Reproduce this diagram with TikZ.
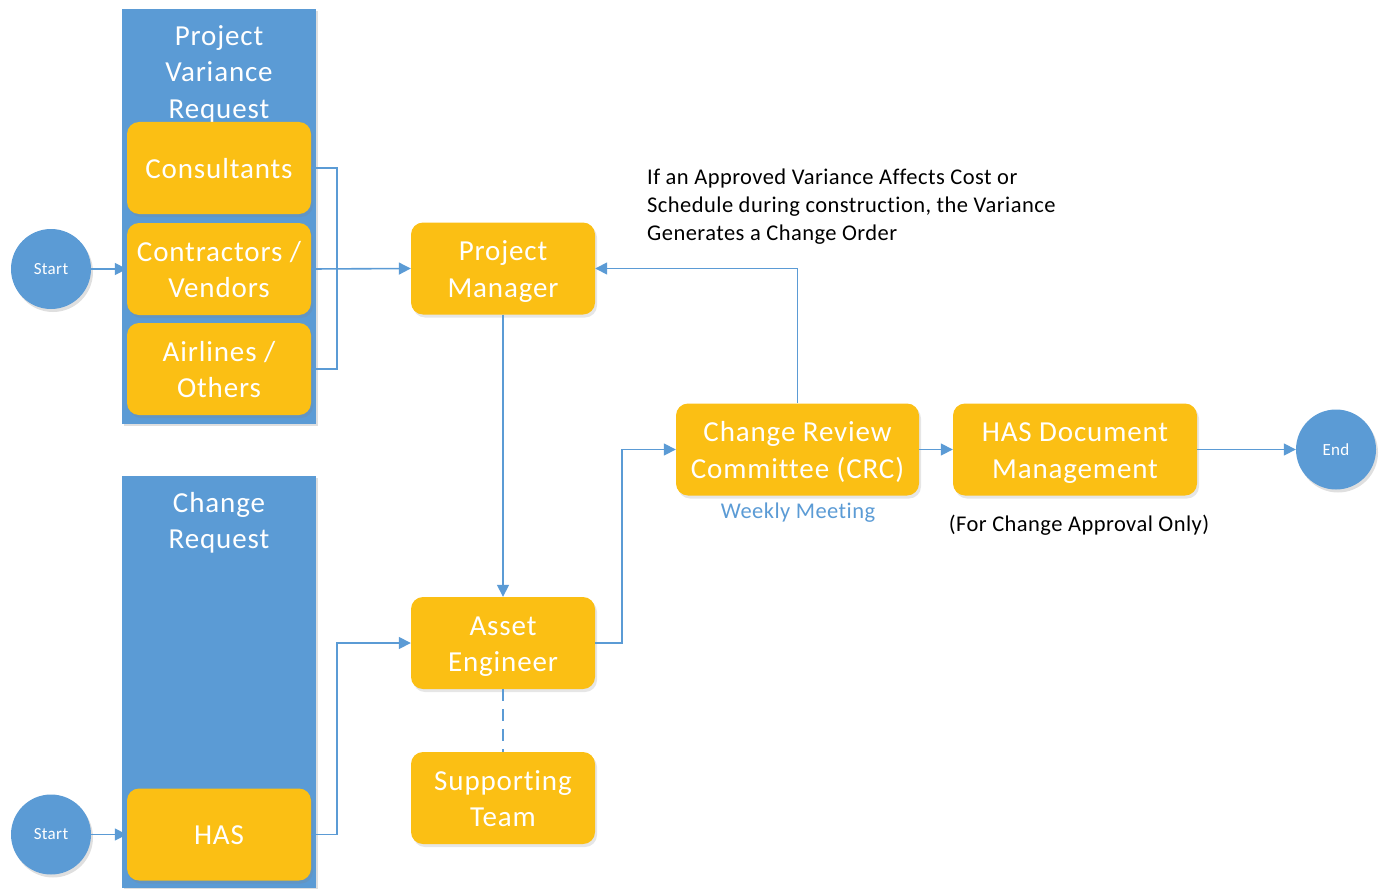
\documentclass[tikz,border=0pt]{standalone}
\usepackage{fontspec}
\setmainfont{Carlito}
\newfontfamily\boxfont[LetterSpace=3,Ligatures=CommonOff]{Carlito}
\newfontfamily\notefont[LetterSpace=2,Ligatures=CommonOff]{Carlito}
\usetikzlibrary{arrows.meta,shadows}
\definecolor{lblue}{HTML}{5B9BD5}
\definecolor{byellow}{HTML}{FBBF14}
\newcommand{\boxtxt}[1]{\raisebox{-3pt}[\height][\depth]{\begin{tabular}{@{}c@{}}#1\end{tabular}}}
\begin{document}
\begin{tikzpicture}[x=1pt,y=-1pt,
  lane/.style={fill=lblue,draw=none,drop shadow={shadow xshift=2pt,shadow yshift=-2pt,opacity=0.25}},
  task/.style={fill=byellow,draw=none,rounded corners=12pt,minimum width=184pt,minimum height=92pt,
    text=white,align=center,font=\boxfont\fontsize{29}{36.5}\selectfont,inner sep=0pt,
    drop shadow={shadow xshift=2pt,shadow yshift=-3pt,opacity=0.2}},
  term/.style={circle,fill=lblue,draw=none,minimum size=80pt,inner sep=0pt,text=white,
    font=\notefont\fontsize{17}{20}\selectfont,drop shadow={shadow xshift=2pt,shadow yshift=-3pt,opacity=0.25}},
  conn/.style={draw=lblue,line width=1.6pt},
  arr/.style={conn,-{Triangle[length=12pt,width=12pt]}},
  lanetitle/.style={text=white,align=center,font=\boxfont\fontsize{29}{36.5}\selectfont},
  note/.style={align=left,font=\notefont\fontsize{22.5}{28}\selectfont,inner sep=0pt}
]
\useasboundingbox (0,0) rectangle (1380,888);
% lanes
\path[lane] (122,9) rectangle (316,424);
\path[lane] (122,476) rectangle (316,888);
\node[lanetitle] (lt1) at (219,74) {Project\\Variance\\Request};
\node[lanetitle] (lt2) at (219,523) {Change\\Request};
% tasks
\node[task] (cons) at (219,168) {\boxtxt{Consultants}};
\node[task] (contr) at (219,269) {\boxtxt{Contractors /\\Vendors}};
\node[task] (oth) at (219,369) {\boxtxt{Airlines /\\Others}};
\node[task] (has) at (219,834.5) {\boxtxt{HAS}};
\node[task] (pm) at (503,268.5) {\boxtxt{Project\\Manager}};
\node[task] (ae) at (503,643) {\boxtxt{Asset\\Engineer}};
\node[task] (st) at (503,798) {\boxtxt{Supporting\\Team}};
\node[task,minimum width=243pt] (crc) at (797.5,449.5) {\boxtxt{Change Review\\Committee (CRC)}};
\node[task,minimum width=244pt] (hasdoc) at (1075,449.5) {\boxtxt{HAS Document\\Management}};
% terminals
\node[term] (s1) at (51,269) {Start};
\node[term] (s2) at (51,834.5) {Start};
\node[term] (end) at (1336,449.5) {End};
% texts
\node[note,anchor=west] (n1) at (647,206.5) {If an Approved Variance Affects Cost or\\Schedule during construction, the Variance\\Generates a Change Order};
\node[note,text=lblue] (n2) at (798,513) {Weekly Meeting};
\node[note] (n3) at (1079,525) {(For Change Approval Only)};
% connectors
\draw[arr] (s1) -- (contr.west);
\draw[arr] (s2) -- (has.west);
\draw[conn] (cons.east) -- ++(26,0) |- (oth.east);
\draw[arr] (contr.east) -- (pm.west);
\draw[arr] (pm.south) -- (ae.north);
\draw[arr] (has.east) -- ++(26,0) |- (ae.west);
\draw[arr] (ae.east) -- ++(27,0) |- (crc.west);
\draw[arr] (crc.east) -- (hasdoc.west);
\draw[arr] (hasdoc.east) -- (end.west);
\draw[arr] (crc.north) |- (pm.east);
\draw[conn,dash pattern=on 12pt off 8pt] (ae.south) -- (st.north);
\end{tikzpicture}
\end{document}
